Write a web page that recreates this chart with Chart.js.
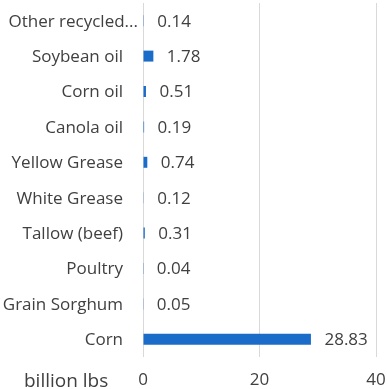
<!DOCTYPE html>
<html><head><meta charset="utf-8">
<script src="https://cdn.jsdelivr.net/npm/chart.js@4.4.1/dist/chart.umd.min.js"></script>
<style>html,body{margin:0;padding:0;background:#fff;}#wrap{width:387px;height:389px;}</style>
</head><body><div id="wrap"><canvas id="c" width="387" height="389"></canvas></div>
<script>
const categories = ["Other recycled...", "Soybean oil", "Corn oil", "Canola oil", "Yellow Grease", "White Grease", "Tallow (beef)", "Poultry", "Grain Sorghum", "Corn"];
const values = [0.14, 1.78, 0.51, 0.19, 0.74, 0.12, 0.31, 0.04, 0.05, 28.83];
const valueLabels = ["0.14", "1.78", "0.51", "0.19", "0.74", "0.12", "0.31", "0.04", "0.05", "28.83"];
const xTicks = [0, 20, 40];
const unitLabel = "billion lbs";

const FONT = "'Open Sans', 'Noto Sans', sans-serif";
const TXT = '#404040';

const labelPlugin = {
  id: 'labels',
  afterDatasetsDraw(chart) {
    const ctx = chart.ctx;
    const meta = chart.getDatasetMeta(0);
    const ys = chart.scales.y;
    ctx.save();
    ctx.font = "17px " + FONT;
    ctx.fillStyle = TXT;
    ctx.textBaseline = 'middle';
    // category labels (right aligned; truncated label sits further right as in source)
    ctx.textAlign = 'right';
    categories.forEach((c, i) => {
      const y = ys.getPixelForValue(i);
      const xr = c.endsWith('...') ? ys.right - 5 : ys.right - 20;
      ctx.fillText(c, xr, y + 1);
    });
    ctx.textAlign = 'left';
    meta.data.forEach((bar, i) => {
      ctx.fillText(valueLabels[i], bar.x + 13.5, bar.y + 1);
    });
    ctx.font = "19px " + FONT;
    ctx.fillText(unitLabel, 24, 382);
    ctx.restore();
  }
};

new Chart(document.getElementById('c'), {
  type: 'bar',
  data: {
    labels: categories,
    datasets: [{
      data: values,
      backgroundColor: '#1b6cc8',
      barPercentage: 0.62,
      categoryPercentage: 0.5
    }]
  },
  options: {
    indexAxis: 'y',
    responsive: false,
    animation: false,
    devicePixelRatio: 1,
    layout: { padding: { top: 3, right: 11, left: 0, bottom: 0 } },
    plugins: { legend: { display: false }, tooltip: { enabled: false } },
    scales: {
      x: {
        min: 0, max: 40,
        afterBuildTicks(s) { s.ticks = xTicks.map(v => ({ value: v })); },
        grid: { color: '#d9d9d9', lineWidth: 1, drawTicks: false },
        border: { display: false },
        ticks: { color: TXT, font: { size: 17, family: FONT }, padding: 13, maxRotation: 0 },
        afterFit(s) { s.height = 32; s.paddingLeft = 0; s.paddingRight = 0; }
      },
      y: {
        grid: { display: false, drawTicks: false },
        border: { display: false },
        ticks: { display: false },
        afterFit(s) { s.width = 143; s.paddingTop = 0; s.paddingBottom = 0; }
      }
    }
  },
  plugins: [labelPlugin]
});
</script></body></html>
